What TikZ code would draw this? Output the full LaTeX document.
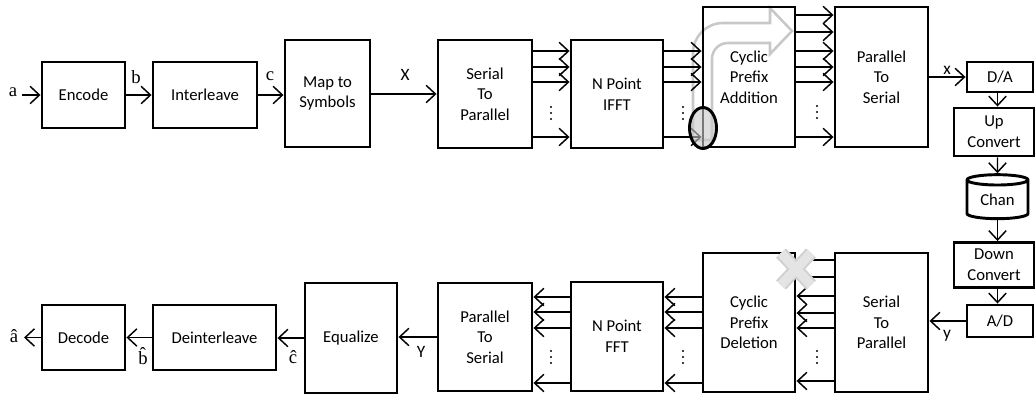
\documentclass[tikz,border=0pt]{standalone}
\usepackage{fontspec}
\setmainfont{Carlito}
\newfontfamily\timesfont{Liberation Serif}
\usepackage{xcolor}
\usetikzlibrary{shapes.geometric,arrows.meta,calc}

\definecolor{arrgray}{RGB}{200,200,200}
\definecolor{xedge}{RGB}{208,208,208}
\definecolor{xfill}{RGB}{228,228,228}
\definecolor{ringfill}{RGB}{200,200,200}

\begin{document}
\begin{tikzpicture}[
    x=0.75pt, y=-0.75pt,
    every node/.style={font=\fontsize{12.5}{15.5}\selectfont, align=center, inner sep=0pt},
    blk/.style 2 args={draw, line width=2.2pt, minimum width=#1*0.75pt, minimum height=#2*0.75pt},
    arr/.style={-{Straight Barb[length=7pt,width=13pt]}, line width=1.1pt},
    ln/.style={line width=1.1pt},
    lbl/.style={font=\timesfont\fontsize{14}{14}\selectfont},
    sig/.style={font=\fontsize{13}{13}\selectfont}
]
\useasboundingbox (0,0) rectangle (1036,397);

% grey bent arrow behind the prefix block
\draw[arrgray, line width=1.9pt, fill=white]
    (693,140) -- (693,53) .. controls (693,36.5) and (706.5,23) .. (723,23)
    -- (770,23) -- (770,8) -- (792,31) -- (770,54) -- (770,43) -- (728,43)
    .. controls (719,43) and (712,50) .. (712,59) -- (712,140) -- cycle;

% transmitter
\node[blk={83}{66}] (enc) at (83.5,95) {Encode};
\node[blk={104}{66}] (intl) at (205,95) {Interleave};
\node[blk={85}{107}] (map) at (327.5,93.5) {Map to\\Symbols};
\node[blk={94}{108}] (sp) at (485,94) {Serial\\To\\Parallel};
\node[blk={92}{108}] (ifft) at (617,94) {N Point\\IFFT};
\node[blk={92}{140}] (cpa) at (749,77) {Cyclic\\Prefix\\Addition};
\node[blk={93}{140}] (ps) at (881.5,77) {Parallel\\To\\Serial};
\node[blk={66}{30}] (da) at (1000,77) {D/A};
\node[blk={80}{48}] (up) at (994,132) {Up\\Convert};

% channel
\node[cylinder, shape border rotate=90, draw, line width=2.2pt, aspect=0.3,
      minimum width=61*0.75pt, minimum height=44*0.75pt] (chan) at (997.5,200) {Chan};

% receiver
\node[blk={80}{45}] (down) at (994,265) {Down\\Convert};
\node[blk={66}{32}] (ad) at (1000,321) {A/D};
\node[blk={93}{139}] (sp2) at (881.5,322.5) {Serial\\To\\Parallel};
\node[blk={92}{139}] (cpd) at (749,322.5) {Cyclic\\Prefix\\Deletion};
\node[blk={92}{109}] (fft) at (617,336.5) {N Point\\FFT};
\node[blk={94}{108}] (ps2) at (485,337) {Parallel\\To\\Serial};
\node[blk={92}{110}] (eq) at (351,338) {Equalize};
\node[blk={123}{65}] (deint) at (214.5,337.5) {Deinterleave};
\node[blk={83}{65}] (dec) at (83.5,337.5) {Decode};

% serial links, top row
\coordinate (ain) at (22,95);
\node[lbl] (alab) at (13,92) {a};
\draw[arr] (ain) -- (enc.west);
\draw[arr] (enc.east) -- (intl.west);
\node[lbl] (blab) at (136,77) {b};
\draw[arr] (intl.east) -- (map.west |- intl.east);
\node[lbl] (clab) at (270,76) {c};
\draw[arr] (map.east |- sp.west) -- (sp.west);
\node[sig] (Xlab) at (405,75) {X};

% parallel links, top row
\foreach \yy in {51,67,82,137}
    \draw[arr] (sp.east |- 0,\yy) -- (ifft.west |- 0,\yy);
\foreach \yy in {51,67,82,137}
    \draw[arr] (ifft.east |- 0,\yy) -- (cpa.west |- 0,\yy);
\foreach \yy in {15,32,51,67,82,137}
    \draw[arr] (cpa.east |- 0,\yy) -- (ps.west |- 0,\yy);
\foreach \xx/\yy in {551/113,683/113,817/112,817/357,683/357,551/357}
    \foreach \dd in {-6,0,6}
        \fill (\xx,\yy+\dd) circle[radius=0.85pt];

% ring on the copied samples
\node[ellipse, draw, line width=2.2pt, fill=ringfill, fill opacity=0.6,
      minimum width=27*0.75pt, minimum height=41*0.75pt] (ring) at (703,128) {};

\draw[arr] (ps.east) -- (da.west);
\node[sig] (xlab) at (947,70) {x};

% down the right side
\draw[arr] (da.south -| chan) -- (up.north -| chan);
\draw[arr] (up.south -| chan) -- (chan.north);
\draw[arr] (chan.south) -- (down.north -| chan);
\draw[arr] (down.south -| chan) -- (ad.north -| chan);
\node[sig] (ylab) at (947,336) {y};
\draw[arr] (ad.west) -- (sp2.east |- ad.west);

% parallel links, bottom row
\foreach \yy in {260,277}
    \draw[ln] (sp2.west |- 0,\yy) -- (cpd.east |- 0,\yy);
\foreach \yy in {296,313,328,381}
    \draw[arr] (sp2.west |- 0,\yy) -- (cpd.east |- 0,\yy);
\foreach \yy in {297,312,328,383}
    \draw[arr] (cpd.west |- 0,\yy) -- (fft.east |- 0,\yy);
\foreach \yy in {297,312,328,383}
    \draw[arr] (fft.west |- 0,\yy) -- (ps2.east |- 0,\yy);

% cross over the dropped prefix
\coordinate (xa) at (781,253);
\coordinate (xb) at (811,285);
\coordinate (xc) at (811,253);
\coordinate (xd) at (781,285);
\draw[xedge, line width=10pt] (xa) -- (xb) (xc) -- (xd);
\draw[xfill, line width=7pt] (xa) -- (xb) (xc) -- (xd);

% serial links, bottom row
\draw[arr] (ps2.west) -- (eq.east |- ps2.west);
\node[sig] (Ylab) at (421,352) {Y};
\draw[arr] (eq.west) -- (deint.east |- eq.west);
\node[lbl] (chat) at (293,357) {\^c};
\draw[arr] (deint.west) -- (dec.east);
\node[lbl] (bhat) at (143,356) {\^b};
\coordinate (aout) at (24,337.5);
\draw[arr] (dec.west) -- (aout);
\node[lbl] (ahat) at (14,336) {\^a};
\end{tikzpicture}
\end{document}
